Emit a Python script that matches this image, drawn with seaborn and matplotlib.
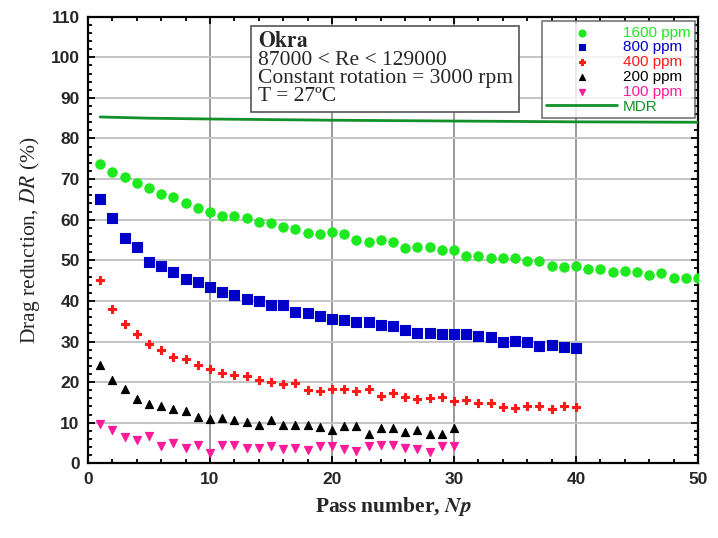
import seaborn as sns
import matplotlib.pyplot as plt
import pandas as pd
import numpy as np
from matplotlib.ticker import MultipleLocator

# Drag reduction vs pass number
np_1600 = list(range(1, 51))
dr_1600 = [73.8, 71.8, 70.4, 69.0, 67.7, 66.3, 65.6, 64.2, 63.0, 61.8,
           61.0, 60.9, 60.5, 59.4, 59.2, 58.3, 57.8, 56.7, 56.4, 57.0,
           56.6, 55.1, 54.4, 54.9, 54.4, 53.0, 53.2, 53.3, 52.5, 52.5,
           51.0, 51.0, 50.6, 50.5, 50.5, 49.8, 49.8, 48.6, 48.4, 48.6,
           47.9, 47.9, 47.0, 47.3, 47.0, 46.5, 46.9, 45.6, 45.6, 45.6]

np_800 = list(range(1, 41))
dr_800 = [65.0, 60.3, 55.5, 53.3, 49.6, 48.6, 47.1, 45.5, 44.6, 43.4,
          42.3, 41.5, 40.4, 39.9, 39.1, 39.0, 37.3, 37.1, 36.3, 35.5,
          35.2, 34.8, 34.9, 34.0, 33.8, 32.9, 32.2, 32.0, 31.8, 31.8,
          31.8, 31.3, 31.0, 29.8, 30.2, 29.8, 28.8, 29.1, 28.7, 28.4]

np_400 = list(range(1, 41))
dr_400 = [45.2, 38.1, 34.3, 31.8, 29.4, 28.0, 26.3, 25.8, 24.1, 23.2,
          22.3, 21.8, 21.6, 20.6, 20.0, 19.6, 19.8, 18.0, 17.8, 18.2,
          18.2, 17.8, 18.2, 16.6, 17.3, 16.3, 15.9, 16.1, 16.3, 15.4,
          15.7, 14.8, 14.9, 13.9, 13.6, 14.1, 14.1, 13.5, 14.0, 13.8]

np_200 = list(range(1, 31))
dr_200 = [24.2, 20.4, 18.2, 15.8, 14.6, 14.1, 13.4, 12.9, 11.5, 11.0,
          11.2, 10.6, 10.1, 9.4, 10.7, 9.4, 9.4, 9.4, 8.9, 8.3,
          9.3, 9.2, 7.2, 8.6, 8.8, 7.7, 8.2, 7.2, 7.2, 8.6]

np_100 = list(range(1, 31))
dr_100 = [9.8, 8.2, 6.6, 5.8, 6.8, 4.2, 5.0, 3.8, 4.4, 2.6,
          4.4, 4.4, 3.8, 3.8, 4.3, 3.6, 3.8, 3.2, 4.3, 4.2,
          3.5, 3.0, 4.2, 4.6, 4.5, 3.7, 3.5, 2.7, 4.2, 4.2]

np_mdr = [1, 5, 10, 20, 30, 40, 50]
dr_mdr = [85.3, 85.0, 84.8, 84.5, 84.3, 84.1, 84.0]

series = [
    ('1600 ppm', np_1600, dr_1600, '#1ee81e', 'o', 45),
    ('800 ppm', np_800, dr_800, '#0000c8', 's', 42),
    ('400 ppm', np_400, dr_400, '#ff1a1a', 'P', 36),
    ('200 ppm', np_200, dr_200, '#000000', '^', 34),
    ('100 ppm', np_100, dr_100, '#ff1a9a', 'v', 34),
]
mdr_color = '#12902a'

info_lines = ['$\\mathbf{Okra}$', '87000 < Re < 129000',
              'Constant rotation = 3000 rpm', 'T = 27\u00baC']

sns.set_theme(style="ticks")
plt.rcParams['font.family'] = ['Liberation Sans', 'DejaVu Sans']
plt.rcParams['mathtext.fontset'] = 'stix'

fig = plt.figure(figsize=(7.18, 5.38), dpi=100)
ax = fig.add_axes([0.1226, 0.1388, 0.8496, 0.8302])

# grid first so points sit on top
ax.set_axisbelow(True)
ax.grid(axis='y', color='#c4c4c4', linewidth=1.4)
ax.grid(axis='x', color='#9a9a9a', linewidth=1.4)

for label, xs, ys, color, marker, size in series:
    df = pd.DataFrame({'Np': xs, 'DR': ys})
    sns.scatterplot(data=df, x='Np', y='DR', color=color, marker=marker,
                    s=size, edgecolor=color, linewidth=0.8, label=label,
                    ax=ax, zorder=3)

mdr = pd.DataFrame({'Np': np_mdr, 'DR': dr_mdr})
sns.lineplot(data=mdr, x='Np', y='DR', color=mdr_color, linewidth=2.0,
             label='MDR', ax=ax, zorder=3)

ax.set_xlim(0, 50)
ax.set_ylim(0, 110)
ax.xaxis.set_major_locator(MultipleLocator(10))
ax.xaxis.set_minor_locator(MultipleLocator(2))
ax.yaxis.set_major_locator(MultipleLocator(10))
ax.yaxis.set_minor_locator(MultipleLocator(2))
ax.tick_params(which='both', direction='in', top=True, right=True,
               color='black', width=1.3)
ax.tick_params(which='major', length=5, labelsize=12.5, pad=6)
ax.tick_params(which='minor', length=3)
for lab in ax.get_xticklabels() + ax.get_yticklabels():
    lab.set_fontweight('bold')

for sp in ax.spines.values():
    sp.set_color('black')
    sp.set_linewidth(1.6)

ax.set_xlabel('Pass number, $\\mathbfit{Np}$', family='Liberation Serif',
              fontsize=15.5, fontweight='bold', labelpad=6)
ax.set_ylabel('Drag reduction, $\\mathit{DR}$ (%)', family='Liberation Serif',
              fontsize=15.5, labelpad=6)

# legend with coloured text
leg = ax.legend(loc='upper right', bbox_to_anchor=(0.995, 0.99),
                frameon=True, fancybox=False, edgecolor='#555555',
                fontsize=11, labelspacing=0.05, handlelength=4.6,
                handletextpad=0.4, borderpad=0.3, borderaxespad=0,
                markerscale=0.75)
leg.get_frame().set_linewidth(1.2)
for txt, col in zip(leg.get_texts(), [s[3] for s in series] + [mdr_color]):
    txt.set_color(col)

# info box
ax.text(0.278, 0.965, '\n'.join(info_lines), transform=ax.transAxes,
        family='Liberation Serif', fontsize=15.5, linespacing=0.92,
        ha='left', va='top', zorder=5,
        bbox=dict(boxstyle='square,pad=0.3', facecolor='white',
                  edgecolor='#555555', linewidth=1.2))

fig.savefig('out.png', dpi=100, facecolor='white')
